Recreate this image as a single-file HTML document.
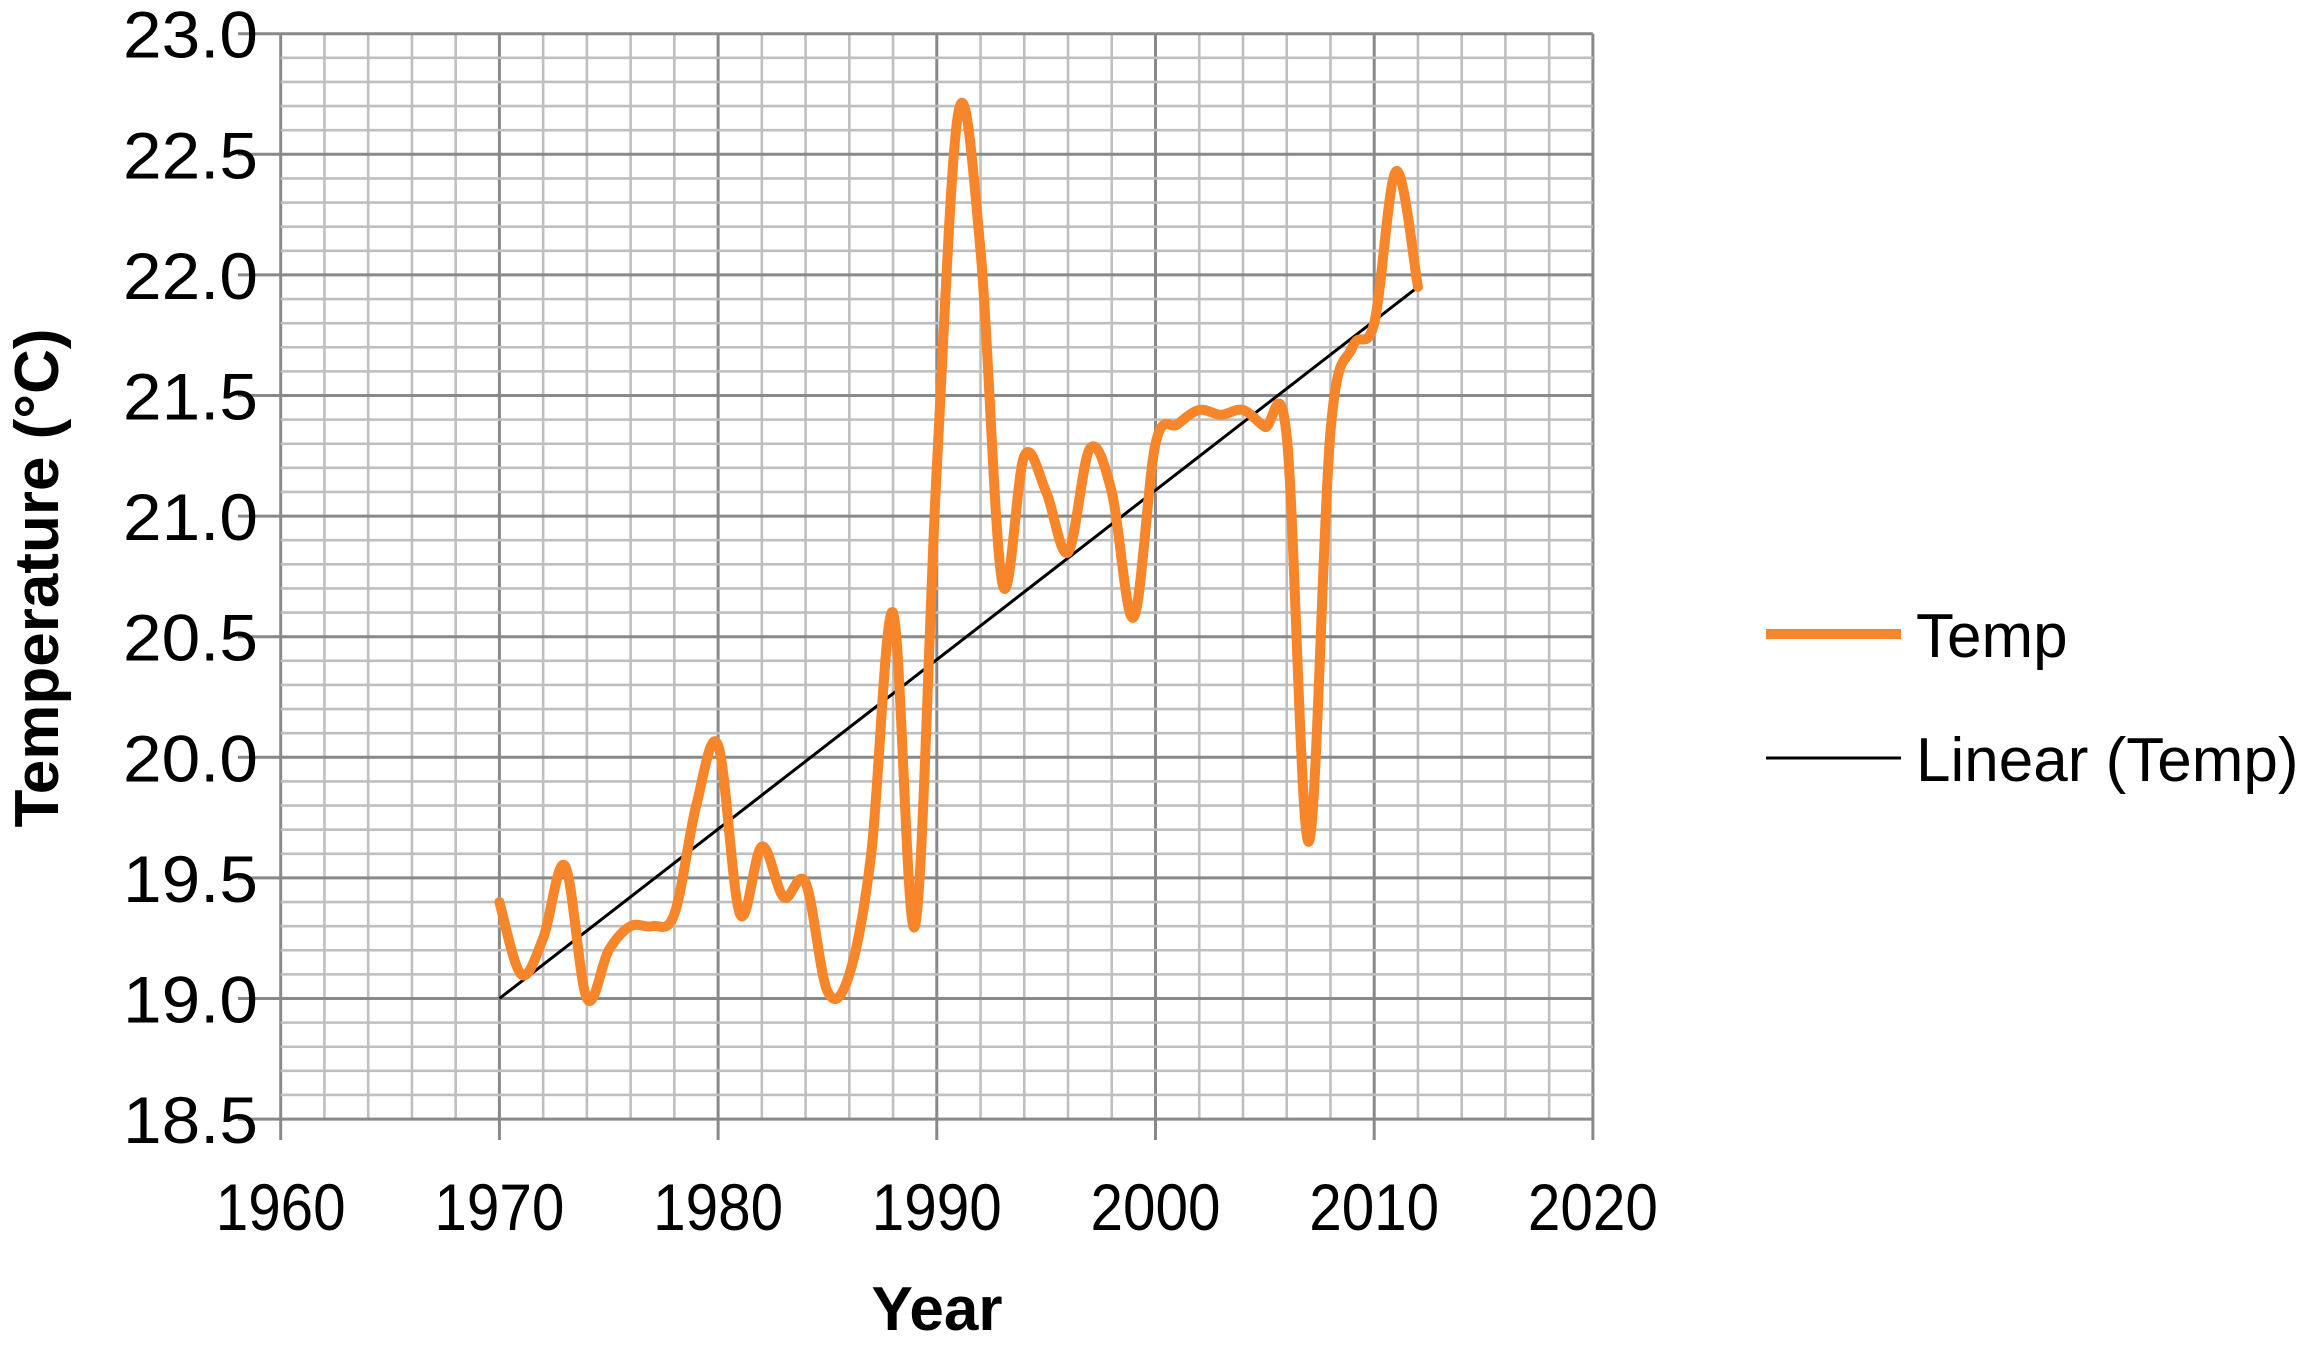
<!DOCTYPE html>
<html><head><meta charset="utf-8"><style>html,body{margin:0;padding:0;background:#fff}svg{display:block}</style></head>
<body>
<svg id="s" width="2307" height="1345" xmlns="http://www.w3.org/2000/svg" font-family="Liberation Sans, sans-serif">
<g id="grid"></g>
<g id="lbl" font-size="66" fill="#000"></g>
<text transform="translate(58,578) rotate(-90)" text-anchor="middle" font-size="62" font-weight="bold">Temperature (°C)</text>
<text x="937" y="1330" text-anchor="middle" font-size="62" font-weight="bold">Year</text>
<path id="trend" fill="none" stroke="#000" stroke-width="3"/>
<path id="temp" fill="none" stroke="#f7862b" stroke-width="10" stroke-linejoin="round" stroke-linecap="round"/>
<line x1="1766" y1="634" x2="1901" y2="634" stroke="#f7862b" stroke-width="10"/>
<text x="1916" y="657" font-size="62">Temp</text>
<line x1="1766" y1="758" x2="1901" y2="758" stroke="#000" stroke-width="3"/>
<text x="1916" y="781" font-size="62">Linear (Temp)</text>
</svg>
<script>
var X=function(y){return 280.7+(y-1960)*21.87;};
var Y=function(v){return 33.7+(23-v)*241.2;};
var g=document.getElementById('grid'),h='';
for(var yr=1960;yr<=2020;yr+=2){var x=X(yr),maj=(yr%10==0);
 h+='<line x1="'+x+'" y1="33.7" x2="'+x+'" y2="'+(maj?1140:1119)+'" stroke="'+(maj?'#898989':'#bfbfbf')+'" stroke-width="'+(maj?3:2.6)+'"/>';}
for(var i=0;i<=45;i++){var v=18.5+i*0.1,y=Y(v),maj=(i%5==0);
 h+='<line x1="'+(maj?238:280.7)+'" y1="'+y+'" x2="'+X(2020)+'" y2="'+y+'" stroke="'+(maj?'#898989':'#bfbfbf')+'" stroke-width="'+(maj?3:2.6)+'"/>';}
g.innerHTML=h;
var l='';
for(var yr=1960;yr<=2020;yr+=10){l+='<text x="'+X(yr)+'" y="1230" text-anchor="middle" textLength="130" lengthAdjust="spacingAndGlyphs">'+yr+'</text>';}
for(var i=0;i<=9;i++){var v=18.5+i*0.5;l+='<text x="'+(258)+'" y="'+(Y(v)+24)+'" text-anchor="end" textLength="135" lengthAdjust="spacingAndGlyphs">'+v.toFixed(1)+'</text>';}
document.getElementById('lbl').innerHTML=l;
document.getElementById('trend').setAttribute('d','M'+X(1970)+','+Y(19.0)+'L'+X(2012)+','+Y(21.95));
var d=[19.4,19.1,19.25,19.55,19.0,19.2,19.3,19.3,19.35,19.8,20.05,19.35,19.63,19.42,19.48,19.03,19.1,19.6,20.6,19.3,21.2,22.68,22.1,20.72,21.25,21.1,20.85,21.28,21.1,20.58,21.3,21.38,21.44,21.42,21.44,21.37,21.33,19.65,21.35,21.7,21.8,22.43,21.95];
var p=d.map(function(v,i){return [X(1970+i),Y(v)];});
var s='M'+p[0][0]+','+p[0][1],t=0.17;
for(var i=0;i<p.length-1;i++){var p0=p[Math.max(i-1,0)],p1=p[i],p2=p[i+1],p3=p[Math.min(i+2,p.length-1)];
 var c1=[p1[0]+(p2[0]-p0[0])*t,p1[1]+(p2[1]-p0[1])*t],c2=[p2[0]-(p3[0]-p1[0])*t,p2[1]-(p3[1]-p1[1])*t];
 s+='C'+c1[0]+','+c1[1]+' '+c2[0]+','+c2[1]+' '+p2[0]+','+p2[1];}
document.getElementById('temp').setAttribute('d',s);
</script>
</body></html>
